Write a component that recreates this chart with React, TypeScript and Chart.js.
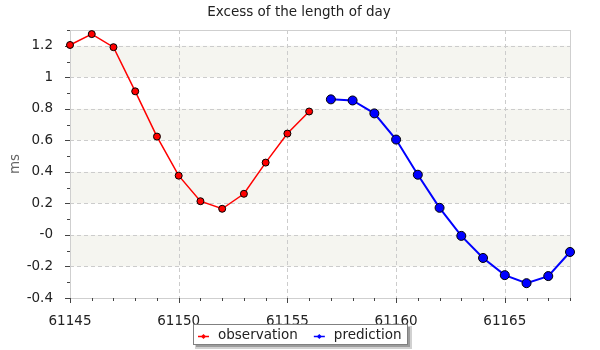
import React, { useEffect, useRef } from "react";
import { Chart, registerables } from "chart.js";

Chart.register(...registerables);

const observationDays = [61145, 61146, 61147, 61148, 61149, 61150, 61151, 61152, 61153, 61154, 61155, 61156];
const observationValues = [1.205, 1.274, 1.191, 0.911, 0.624, 0.376, 0.214, 0.166, 0.261, 0.459, 0.643, 0.783];
const predictionDays = [61157, 61158, 61159, 61160, 61161, 61162, 61163, 61164, 61165, 61166, 61167, 61168];
const predictionValues = [0.86, 0.853, 0.771, 0.605, 0.382, 0.172, -0.006, -0.146, -0.255, -0.306, -0.261, -0.108];

const xMin = 61145;
const xMax = 61168;
const xMajorTicks = [61145, 61150, 61155, 61160, 61165];
const yMin = -0.4;
const yMax = 1.3;
const yMajorTicks = [-0.4, -0.2, 0, 0.2, 0.4, 0.6, 0.8, 1, 1.2];
const yTickLabels = ["-0.4", "-0.2", "-0", "0.2", "0.4", "0.6", "0.8", "1", "1.2"];
const shadedBands = [[-0.2, 0], [0.2, 0.4], [0.6, 0.8], [1, 1.2]];
const seriesNames = ["observation", "prediction"];
const seriesColors = ["#ff0000", "#0000ff"];
const chartTitle = "Excess of the length of day";

const FONT = "'DejaVu Sans', Verdana, sans-serif";
const FSIZE = 13.5;

const isMajorX = (v: number) => xMajorTicks.some((t) => Math.abs(t - v) < 1e-6);
const majorYIndex = (v: number) => yMajorTicks.findIndex((t) => Math.abs(t - v) < 1e-6);

const decorPlugin = {
  id: "decor",
  beforeDraw(chart: any) {
    const { ctx, chartArea: a, scales } = chart;
    ctx.save();
    ctx.fillStyle = "#ffffff";
    ctx.fillRect(0, 0, chart.width, chart.height);
    ctx.fillStyle = "#f5f5f0";
    const y = scales.y;
    shadedBands.forEach(([lo, hi]) => {
      const top = y.getPixelForValue(hi);
      const bot = y.getPixelForValue(lo);
      ctx.fillRect(a.left, top, a.right - a.left, bot - top);
    });
    ctx.restore();
  },
  beforeDatasetsDraw(chart: any) {
    const { ctx, chartArea: a, scales } = chart;
    const x = scales.x;
    const y = scales.y;
    ctx.save();
    ctx.strokeStyle = "#cccccc";
    ctx.lineWidth = 1;
    ctx.setLineDash([4, 3]);
    xMajorTicks.forEach((v) => {
      if (v === xMin) return;
      const px = Math.round(x.getPixelForValue(v)) + 0.5;
      ctx.beginPath();
      ctx.moveTo(px, a.top);
      ctx.lineTo(px, a.bottom);
      ctx.stroke();
    });
    yMajorTicks.forEach((v) => {
      if (v === yMin) return;
      const py = Math.round(y.getPixelForValue(v)) + 0.5;
      ctx.beginPath();
      ctx.moveTo(a.left, py);
      ctx.lineTo(a.right, py);
      ctx.stroke();
    });
    ctx.setLineDash([]);
    ctx.strokeStyle = "#cfcfcf";
    ctx.strokeRect(Math.round(a.left) + 0.5, Math.round(a.top) + 0.5, Math.round(a.right - a.left), Math.round(a.bottom - a.top));
    ctx.strokeStyle = "#444444";
    x.ticks.forEach((t: any) => {
      const px = Math.round(x.getPixelForValue(t.value)) + 0.5;
      const len = isMajorX(t.value) ? 5 : 3;
      ctx.beginPath();
      ctx.moveTo(px, Math.round(a.bottom));
      ctx.lineTo(px, Math.round(a.bottom) + len);
      ctx.stroke();
    });
    y.ticks.forEach((t: any) => {
      const py = Math.round(y.getPixelForValue(t.value)) + 0.5;
      const len = majorYIndex(t.value) >= 0 ? 5 : 3;
      ctx.beginPath();
      ctx.moveTo(Math.round(a.left), py);
      ctx.lineTo(Math.round(a.left) - len, py);
      ctx.stroke();
    });
    ctx.restore();
  },
  afterDraw(chart: any) {
    const { ctx } = chart;
    ctx.save();
    ctx.font = `${FSIZE}px ${FONT}`;
    // title
    ctx.fillStyle = "#222222";
    ctx.textAlign = "center";
    ctx.textBaseline = "middle";
    ctx.fillText(chartTitle, 299, 12);
    // legend
    const pad = 5;
    const lineW = 11;
    const gapText = 9;
    const gapItem = 16;
    const widths = seriesNames.map((n) => ctx.measureText(n).width);
    const total = Math.round(pad * 2 + widths.reduce((s, w) => s + lineW + gapText + w, 0) + gapItem * (seriesNames.length - 1));
    const bx = Math.round(300 - total / 2);
    const by = 324;
    const bh = 20;
    ctx.fillStyle = "rgba(0,0,0,0.18)";
    ctx.fillRect(bx + 2, by + 2, total + 3, bh + 3);
    ctx.fillStyle = "rgba(0,0,0,0.25)";
    ctx.fillRect(bx + 3, by + 3, total, bh);
    ctx.fillStyle = "#ffffff";
    ctx.fillRect(bx, by, total, bh);
    ctx.strokeStyle = "#808080";
    ctx.lineWidth = 1;
    ctx.strokeRect(bx + 0.5, by + 0.5, total, bh);
    let cx = bx + pad;
    const cy = by + 12.5;
    seriesNames.forEach((n, i) => {
      ctx.strokeStyle = seriesColors[i];
      ctx.lineWidth = 1.5;
      ctx.beginPath();
      ctx.moveTo(cx, cy);
      ctx.lineTo(cx + lineW, cy);
      ctx.stroke();
      const mx = cx + lineW / 2;
      ctx.fillStyle = seriesColors[i];
      ctx.beginPath();
      ctx.moveTo(mx, cy - 2.5);
      ctx.lineTo(mx + 2.5, cy);
      ctx.lineTo(mx, cy + 2.5);
      ctx.lineTo(mx - 2.5, cy);
      ctx.closePath();
      ctx.fill();
      ctx.fillStyle = "#222222";
      ctx.textBaseline = "middle";
      ctx.textAlign = "left";
      ctx.fillText(n, cx + lineW + gapText, cy - 1);
      cx += lineW + gapText + widths[i] + gapItem;
    });
    ctx.restore();
  },
};

export default function App() {
  const ref = useRef<HTMLCanvasElement | null>(null);
  useEffect(() => {
    if (!ref.current) return;
    const chart = new Chart(ref.current, {
      type: "line",
      data: {
        datasets: [
          {
            label: seriesNames[0],
            data: observationDays.map((d, i) => ({ x: d, y: observationValues[i] })),
            borderColor: seriesColors[0],
            backgroundColor: seriesColors[0],
            borderWidth: 1.5,
            pointRadius: 3.5,
            pointBackgroundColor: seriesColors[0],
            pointBorderColor: "#000000",
            pointBorderWidth: 1,
            tension: 0,
            clip: false as any,
          },
          {
            label: seriesNames[1],
            data: predictionDays.map((d, i) => ({ x: d, y: predictionValues[i] })),
            borderColor: seriesColors[1],
            backgroundColor: seriesColors[1],
            borderWidth: 2,
            pointRadius: 4.5,
            pointBackgroundColor: seriesColors[1],
            pointBorderColor: "#000000",
            pointBorderWidth: 1,
            tension: 0,
            clip: false as any,
          },
        ],
      },
      options: {
        animation: false,
        responsive: false,
        devicePixelRatio: 1,
        layout: { padding: { top: 30, right: 30, bottom: 0, left: 0 } },
        plugins: {
          legend: { display: false },
          tooltip: { enabled: false },
          title: { display: false },
        },
        scales: {
          x: {
            type: "linear",
            min: xMin,
            max: xMax,
            afterBuildTicks: (scale: any) => {
              const t = [];
              for (let v = xMin; v <= xMax; v++) t.push({ value: v });
              scale.ticks = t;
            },
            afterFit: (scale: any) => {
              scale.height = 52;
            },
            grid: { display: false },
            border: { display: false },
            ticks: {
              autoSkip: false,
              maxRotation: 0,
              padding: 7,
              color: "#222222",
              font: { family: FONT, size: FSIZE },
              callback: (v: any) => (isMajorX(Number(v)) ? String(v) : ""),
            },
          },
          y: {
            type: "linear",
            min: yMin,
            max: yMax,
            afterBuildTicks: (scale: any) => {
              const t = [];
              for (let k = -4; k <= 13; k++) t.push({ value: k / 10 });
              scale.ticks = t;
            },
            afterFit: (scale: any) => {
              scale.width = 70;
            },
            grid: { display: false },
            border: { display: false },
            title: {
              display: true,
              text: "ms",
              color: "#666666",
              font: { family: FONT, size: FSIZE },
              padding: { top: 7, bottom: 0 },
            },
            ticks: {
              autoSkip: false,
              padding: 9,
              color: "#222222",
              font: { family: FONT, size: FSIZE },
              callback: (v: any) => {
                const i = majorYIndex(Number(v));
                return i >= 0 ? yTickLabels[i] : "";
              },
            },
          },
        },
      },
      plugins: [decorPlugin],
    });
    return () => chart.destroy();
  }, []);
  return (
    <div style={{ position: "absolute", left: 0, top: 0, width: 600, height: 350 }}>
      <canvas ref={ref} width={600} height={350} />
    </div>
  );
}
